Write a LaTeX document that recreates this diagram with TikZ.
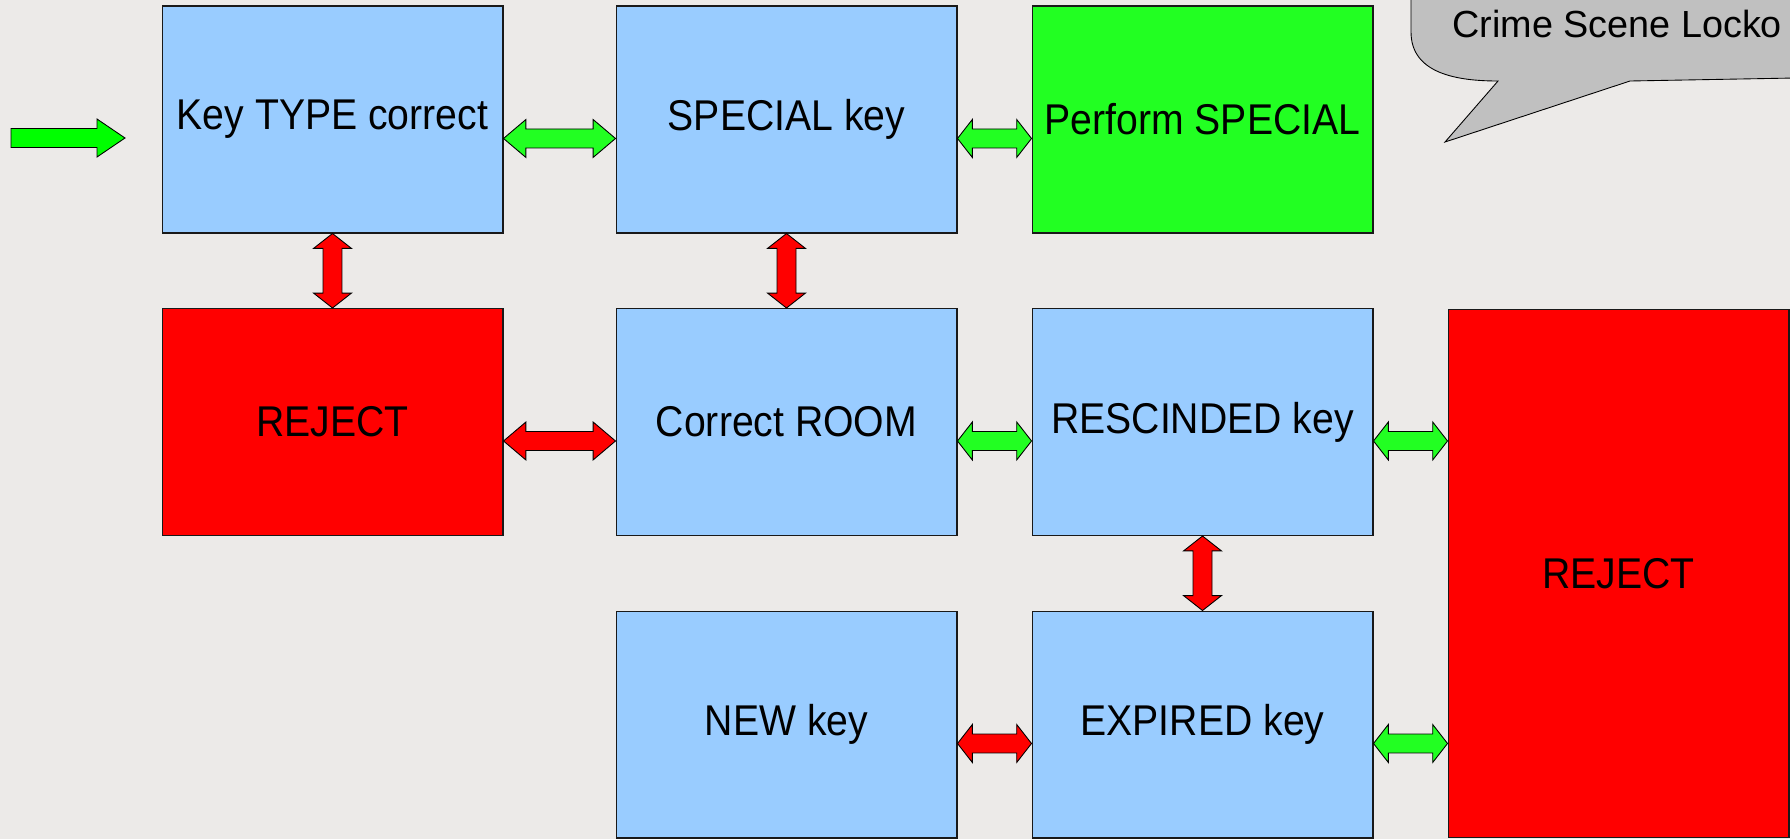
\documentclass[tikz,border=0pt]{standalone}
\usepackage{fontspec}
\setmainfont{Liberation Sans}
\newfontfamily\boxfont[FakeStretch=0.91]{Liberation Sans}
\usetikzlibrary{calc}

\definecolor{keyblue}{HTML}{99CCFF}
\definecolor{okgreen}{HTML}{22FF22}
\definecolor{startgreen}{HTML}{00FF00}
\definecolor{badred}{HTML}{FF0000}
\definecolor{bggray}{HTML}{ECEAE8}
\definecolor{bubblegray}{HTML}{C0C0C0}

% double block arrow: style, from, to
\newcommand{\dblarrow}[3]{%
  \draw[#1] (#2)
    -- ($(#2)!0.2!(#3)!10.8pt!90:(#3)$) -- ($(#2)!0.2!(#3)!5.4pt!90:(#3)$)
    -- ($(#3)!0.2!(#2)!5.4pt!-90:(#2)$) -- ($(#3)!0.2!(#2)!10.8pt!-90:(#2)$)
    -- (#3)
    -- ($(#3)!0.2!(#2)!10.8pt!90:(#2)$) -- ($(#3)!0.2!(#2)!5.4pt!90:(#2)$)
    -- ($(#2)!0.2!(#3)!5.4pt!-90:(#3)$) -- ($(#2)!0.2!(#3)!10.8pt!-90:(#3)$)
    -- cycle;}

\begin{document}
\begin{tikzpicture}[x=0.02cm, y=-0.02cm]
    % Define the styles for the boxes and arrows
    \tikzstyle{check}=[rectangle, draw=black!90, line width=0.6pt, fill=keyblue, text centered, minimum width=6.82cm, minimum height=4.54cm, font=\boxfont\fontsize{24.5}{28}\selectfont]
    \tikzstyle{special}=[check, fill=okgreen]
    \tikzstyle{reject}=[check, fill=badred]
    \tikzstyle{okarrow}=[draw=black, line width=0.5pt, fill=okgreen]
    \tikzstyle{badarrow}=[draw=black, line width=0.5pt, fill=badred]

    % Background and speech bubble
    \useasboundingbox (0,0) rectangle (1790,839);
    \fill[bggray] (0,0) rectangle (1790,839);
    \draw[fill=bubblegray, line width=0.5pt] (1411,-5) -- (1411,32) .. controls (1411,74) and (1458,81) .. (1498,81) -- (1445,142) -- (1630,81) -- (1795,78) -- (1795,-5) -- cycle;
    \node[anchor=base west, inner sep=0, font=\fontsize{21.5}{25}\selectfont] (crime_scene) at (1452,37) {Crime Scene Locko};

    % Draw the boxes
    \node[check] (key_type) at (332.5, 119.5) {Key TYPE correct};
    \node[check] (special_key) at (786.5, 119.5) {SPECIAL key};
    \node[special] (perform_special) at (1202.5, 119.5) {Perform SPECIAL};
    \node[reject] (reject_left) at (332.5, 422) {REJECT};
    \node[check] (correct_room) at (786.5, 422) {Correct ROOM};
    \node[check] (rescinded_key) at (1202.5, 422) {RESCINDED key};
    \node[check] (new_key) at (786.5, 724.5) {NEW key};
    \node[check] (expired_key) at (1202.5, 724.5) {EXPIRED key};
    \node[reject, minimum height=10.58cm] (reject_right) at (1618.5, 573.5) {REJECT};

    % Entry arrow
    \coordinate (entry) at (11, 138);
    \coordinate (entry_tip) at (125, 138);
    \draw[draw=black, line width=0.5pt, fill=startgreen] ($(entry)+(0,-9.5)$) -- ($(entry_tip)+(-28,-9.5)$) -- ($(entry_tip)+(-28,-19)$) -- (entry_tip) -- ($(entry_tip)+(-28,19)$) -- ($(entry_tip)+(-28,9.5)$) -- ($(entry)+(0,9.5)$) -- cycle;

    % Draw the arrows between the boxes
    \dblarrow{okarrow}{[yshift=-10.8pt]key_type.east}{[yshift=-10.8pt]special_key.west}
    \dblarrow{okarrow}{[yshift=-10.8pt]special_key.east}{[yshift=-10.8pt]perform_special.west}
    \dblarrow{badarrow}{key_type.south}{reject_left.north}
    \dblarrow{badarrow}{special_key.south}{correct_room.north}
    \dblarrow{badarrow}{[yshift=-10.8pt]reject_left.east}{[yshift=-10.8pt]correct_room.west}
    \dblarrow{okarrow}{[yshift=-10.8pt]correct_room.east}{[yshift=-10.8pt]rescinded_key.west}
    \dblarrow{okarrow}{[yshift=-10.8pt]rescinded_key.east}{[yshift=-10.8pt]rescinded_key.east -| reject_right.west}
    \dblarrow{badarrow}{rescinded_key.south}{expired_key.north}
    \dblarrow{badarrow}{[yshift=-10.8pt]new_key.east}{[yshift=-10.8pt]expired_key.west}
    \dblarrow{okarrow}{[yshift=-10.8pt]expired_key.east}{[yshift=-10.8pt]expired_key.east -| reject_right.west}
\end{tikzpicture}
\end{document}
